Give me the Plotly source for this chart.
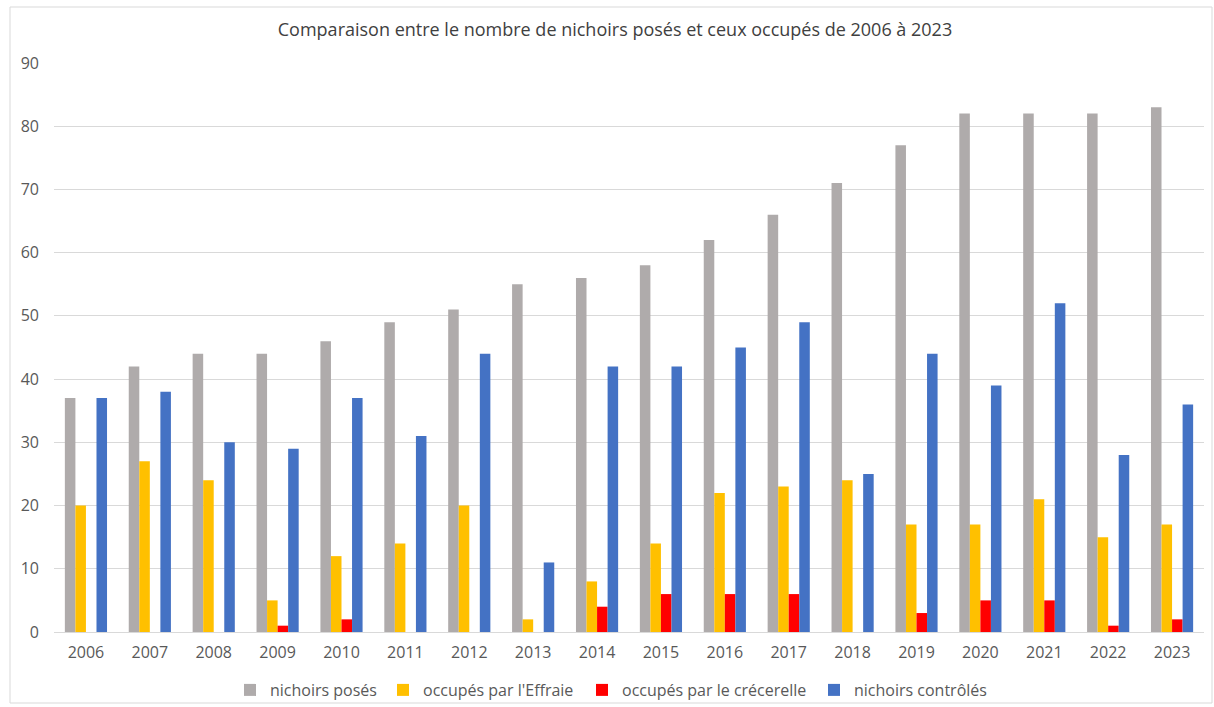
import plotly.graph_objects as go

years = [str(y) for y in range(2006, 2024)]
nichoirs_poses = [37, 42, 44, 44, 46, 49, 51, 55, 56, 58, 62, 66, 71, 77, 82, 82, 82, 83]
occupes_effraie = [20, 27, 24, 5, 12, 14, 20, 2, 8, 14, 22, 23, 24, 17, 17, 21, 15, 17]
occupes_crecerelle = [0, 0, 0, 1, 2, 0, 0, 0, 4, 6, 6, 6, 0, 3, 5, 5, 1, 2]
nichoirs_controles = [37, 38, 30, 29, 37, 31, 44, 11, 42, 42, 45, 49, 25, 44, 39, 52, 28, 36]

series = [
    ("nichoirs posés", nichoirs_poses, "#AFABAB"),
    ("occupés par l'Effraie", occupes_effraie, "#FFC000"),
    ("occupés par le crécerelle", occupes_crecerelle, "#FF0000"),
    ("nichoirs contrôlés", nichoirs_controles, "#4472C4"),
]

FONT = "Open Sans, Liberation Sans, sans-serif"
W, H = 1214, 707
ml, mr, mt, mb = 54, 10, 63, 75
pw = W - ml - mr
ph = H - mt - mb

legend_ids = ["legend", "legend2", "legend3", "legend4"]
legend_left_px = [230, 383, 582, 814]

fig = go.Figure()
for (name, vals, col), lid in zip(series, legend_ids):
    fig.add_trace(go.Bar(x=years, y=vals, name=name, legend=lid,
                         marker=dict(color=col, line=dict(width=0))))

leg_common = dict(orientation="h", xanchor="left", yanchor="middle",
                  xref="container", yref="container",
                  y=1 - 690 / H, bgcolor="rgba(0,0,0,0)",
                  font=dict(family=FONT, size=16, color="#595959"))
legends = {}
for lid, px in zip(legend_ids, legend_left_px):
    legends[lid] = dict(leg_common, x=px / W)

fig.update_layout(
    width=W, height=H,
    margin=dict(l=ml, r=mr, t=mt, b=mb),
    paper_bgcolor="white", plot_bgcolor="white",
    barmode="group", bargap=0.34, bargroupgap=0,
    font=dict(family=FONT, color="#595959", size=15),
    title=dict(text="Comparaison entre le nombre de nichoirs posés et ceux occupés de 2006 à 2023",
               x=615 / W, xanchor="center", y=1 - 30 / H, yanchor="middle",
               font=dict(family=FONT, size=18, color="#404040")),
    xaxis=dict(showgrid=False, showline=True, linecolor="#D9D9D9", linewidth=1,
               ticks="", tickfont=dict(size=16, color="#595959"), ticklabelstandoff=6),
    yaxis=dict(range=[0, 90], dtick=10, showgrid=True, gridcolor="#D9D9D9", gridwidth=1,
               zeroline=False, showline=False, ticks="", ticklabelstandoff=14,
               tickfont=dict(size=16, color="#595959")),
    showlegend=True,
    shapes=[dict(type="rect", xref="paper", yref="paper",
                 x0=(10 - ml) / pw, x1=(1212 - ml) / pw,
                 y0=-(703 - (H - mb)) / ph, y1=1 + (mt - 7) / ph,
                 line=dict(color="#D9D9D9", width=1), fillcolor="rgba(0,0,0,0)", layer="below")],
    **legends,
)

fig.write_html("out.html", config={"displayModeBar": False},
               post_script="document.body.style.margin='0';")
